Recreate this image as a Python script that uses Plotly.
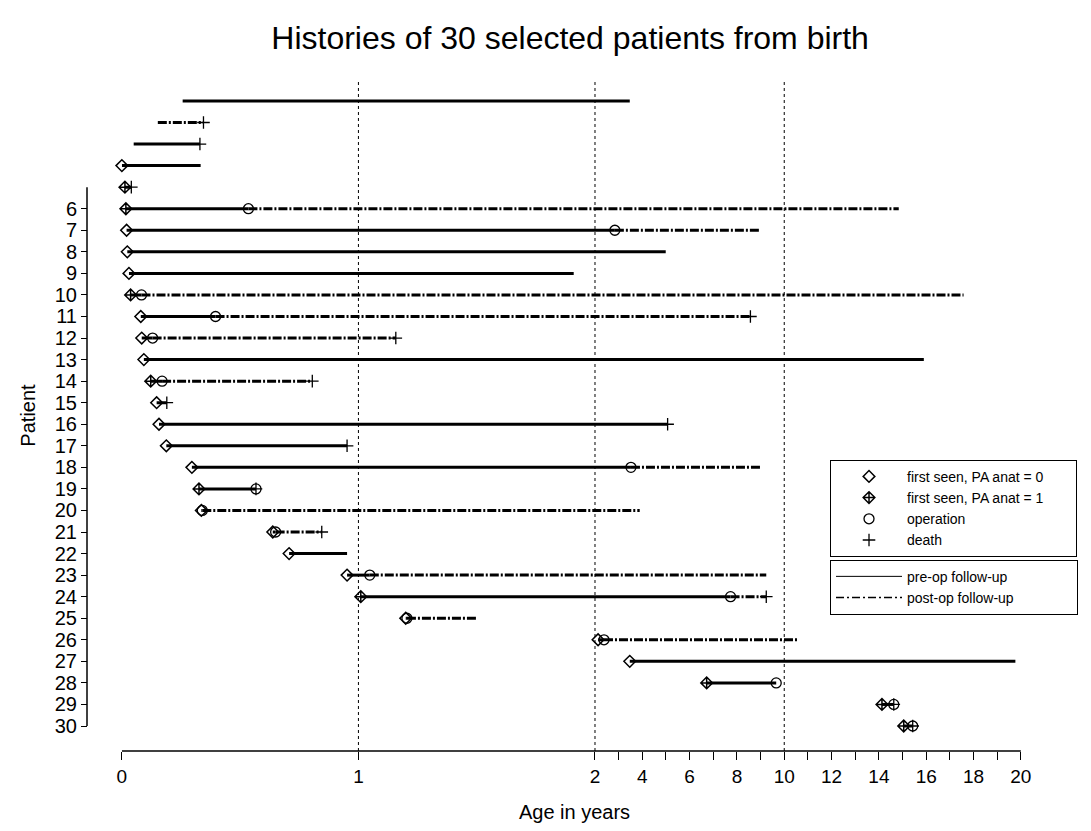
import plotly.graph_objects as go

# ---------------- data (ages in years) ----------------
patients = list(range(1, 31))
first_seen = [0.257, 0.152, 0.05, 0.0, 0.013, 0.017, 0.02, 0.023, 0.03, 0.037,
              0.08, 0.084, 0.093, 0.122, 0.147, 0.157, 0.188, 0.296, 0.326, 0.336,
              0.638, 0.707, 0.952, 1.01, 1.2, 2.13, 3.47, 6.72, 14.13, 15.05]
# None = first-seen marker not drawn
pa_anat = [None, None, None, 0, 1, 1, 0, 0, 0, 1,
           0, 0, 0, 1, 0, 0, 0, 0, 1, 0,
           0, 0, 0, 1, 0, 0, 0, 1, 1, 1]
operation = [None, 0.152, None, None, None, 0.535, 2.84, None, None, 0.083,
             0.396, 0.13, None, 0.17, None, None, None, 3.52, 0.567, 0.34,
             0.65, None, 1.048, 7.73, 1.205, 2.38, None, 9.66, 14.63, 15.43]
op_marked = [True, False, True, True, True, True, True, True, True, True,
             True, True, True, True, True, True, True, True, True, True,
             True, True, True, True, True, True, True, True, True, True]
end_age = [3.47, 0.345, 0.33, 0.333, 0.04, 14.84, 8.95, 4.99, 1.91, 17.58,
           8.57, 1.158, 15.9, 0.805, 0.19, 5.07, 0.952, 8.99, 0.567, 3.89,
           0.845, 0.952, 9.24, 9.24, 1.5, 10.55, 19.77, 9.66, 14.63, 15.43]
died = [False, True, True, False, True, False, False, False, False, False,
        True, True, False, True, True, True, True, False, True, False,
        True, False, False, True, False, False, False, False, True, True]

x_tick_ages = list(range(0, 21))
x_tick_labels = ["0", "1", "2", "", "4", "", "6", "", "8", "", "10",
                 "", "12", "", "14", "", "16", "", "18", "", "20"]
y_tick_vals = list(range(6, 31))
ref_ages = [1, 2, 10]


def scale(a):
    """Piecewise age axis: 0-2 years linear, 2-20 years compressed 10x."""
    if a is None:
        return None
    return a if a <= 2 else 2 + (a - 2) / 10.0


fig = go.Figure()

# ---- follow-up lines ----
pre_x, pre_y, post_x, post_y = [], [], [], []
for p, s, op, e in zip(patients, first_seen, operation, end_age):
    if op is None:
        pre_x += [scale(s), scale(e), None]
        pre_y += [p, p, None]
    else:
        if op > s:
            pre_x += [scale(s), scale(op), None]
            pre_y += [p, p, None]
        if e > op:
            post_x += [scale(op), scale(e), None]
            post_y += [p, p, None]

BLACK = "black"
DASHDOT = "9px,2px,2px,2px"
fig.add_trace(go.Scatter(x=pre_x, y=pre_y, mode="lines",
                         line=dict(color=BLACK, width=3), showlegend=False,
                         hoverinfo="skip", cliponaxis=False))
fig.add_trace(go.Scatter(x=post_x, y=post_y, mode="lines",
                         line=dict(color=BLACK, width=3, dash=DASHDOT),
                         showlegend=False, hoverinfo="skip", cliponaxis=False))

# ---- markers ----
fs0_x = [scale(s) for s, a in zip(first_seen, pa_anat) if a == 0]
fs0_y = [p for p, a in zip(patients, pa_anat) if a == 0]
fs1_x = [scale(s) for s, a in zip(first_seen, pa_anat) if a == 1]
fs1_y = [p for p, a in zip(patients, pa_anat) if a == 1]
op_x = [scale(o) for o, m in zip(operation, op_marked) if o is not None and m]
op_y = [p for p, o, m in zip(patients, operation, op_marked) if o is not None and m]
d_x = [scale(e) for e, d in zip(end_age, died) if d]
d_y = [p for p, d in zip(patients, died) if d]

PAD1 = "\u00a0" * 7
PAD2 = "\u00a0" * 15
fig.add_trace(go.Scatter(x=fs0_x, y=fs0_y, mode="markers", name="first seen, PA anat = 0" + PAD1,
                         marker=dict(symbol="diamond-open", size=9, color=BLACK,
                                     line=dict(width=1.5, color=BLACK)),
                         legend="legend", cliponaxis=False))
fig.add_trace(go.Scatter(x=fs1_x, y=fs1_y, mode="markers", name="first seen, PA anat = 1" + PAD1,
                         marker=dict(symbol="diamond-cross-open", size=9, color=BLACK,
                                     line=dict(width=1.5, color=BLACK)),
                         legend="legend", cliponaxis=False))
fig.add_trace(go.Scatter(x=op_x, y=op_y, mode="markers", name="operation",
                         marker=dict(symbol="circle-open", size=10, color=BLACK,
                                     line=dict(width=1.3, color=BLACK)),
                         legend="legend", cliponaxis=False))
fig.add_trace(go.Scatter(x=d_x, y=d_y, mode="markers", name="death",
                         marker=dict(symbol="cross-thin-open", size=9, color=BLACK,
                                     line=dict(width=1.3, color=BLACK)),
                         legend="legend", cliponaxis=False))

# legend-only line samples
fig.add_trace(go.Scatter(x=[None], y=[None], mode="lines", name="pre-op follow-up",
                         line=dict(color=BLACK, width=1), legend="legend2"))
fig.add_trace(go.Scatter(x=[None], y=[None], mode="lines", name="post-op follow-up" + PAD2,
                         line=dict(color=BLACK, width=1.5, dash="8px,3px,2px,3px"),
                         legend="legend2"))

# ---- reference lines and axis lines ----
for a in ref_ages:
    fig.add_shape(type="line", xref="x", yref="paper", x0=scale(a), x1=scale(a),
                  y0=0, y1=1, line=dict(color=BLACK, width=1, dash="dot"), layer="below")
fig.add_shape(type="line", xref="x", yref="paper", x0=scale(0), x1=scale(20),
              y0=0, y1=0, line=dict(color=BLACK, width=1.5))
fig.add_shape(type="line", xref="paper", yref="y", x0=0, x1=0, y0=5, y1=30,
              line=dict(color=BLACK, width=1.5))

FONT = "Liberation Sans, Arial, Helvetica, sans-serif"
fig.update_layout(
    width=1075, height=815,
    margin=dict(l=79, r=0, t=72, b=70),
    paper_bgcolor="white", plot_bgcolor="white",
    font=dict(family=FONT, color=BLACK, size=14),
    title=dict(text="Histories of 30 selected patients from birth",
               x=0.487, xref="paper", xanchor="center",
               y=1 - 30 / 815, yref="container", yanchor="middle",
               font=dict(size=32, family=FONT, color=BLACK)),
    xaxis=dict(domain=[0.03514, 0.94779], range=[0, 3.827],
               tickvals=[scale(a) for a in x_tick_ages], ticktext=x_tick_labels,
               ticks="outside", ticklen=8, tickwidth=1, tickcolor=BLACK,
               showline=False, showgrid=False, zeroline=False,
               tickfont=dict(size=19),
               title=dict(text="Age in years", font=dict(size=20), standoff=22)),
    yaxis=dict(range=[31.16, 0.028], anchor="free", position=0,
               tickvals=y_tick_vals, ticktext=[str(v) for v in y_tick_vals],
               ticks="outside", ticklen=6, tickwidth=1, tickcolor=BLACK,
               showline=False, showgrid=False, zeroline=False,
               tickfont=dict(size=20),
               title=dict(text="Patient", font=dict(size=20), standoff=12)),
    legend=dict(x=0.749, y=0.434, xanchor="left", yanchor="top",
                bordercolor=BLACK, borderwidth=1, bgcolor="white",
                font=dict(size=14), itemwidth=66),
    legend2=dict(x=0.749, y=0.285, xanchor="left", yanchor="top",
                 bordercolor=BLACK, borderwidth=1, bgcolor="white",
                 font=dict(size=14), itemwidth=66),
)

fig.write_html("out.html")
